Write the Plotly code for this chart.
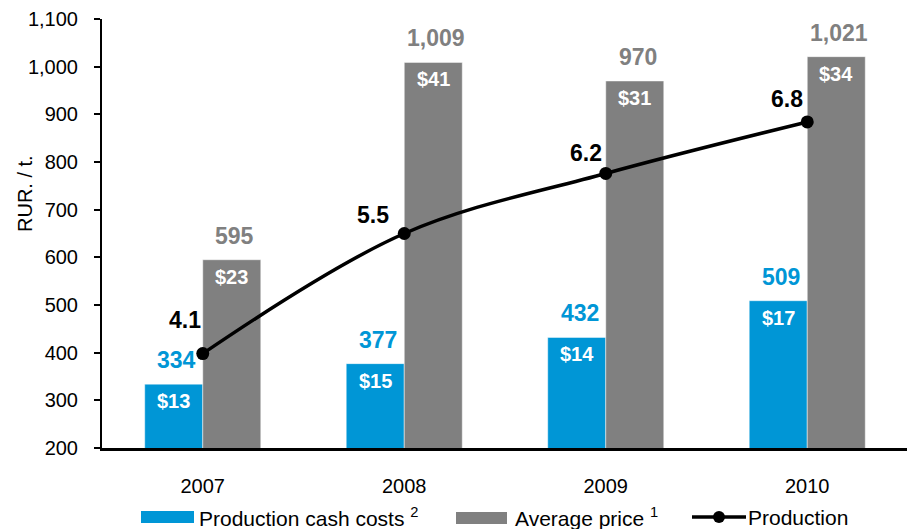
import plotly.graph_objects as go

# ---- data ----
years = ["2007", "2008", "2009", "2010"]
cash_costs = [334, 377, 432, 509]
cash_costs_usd = ["$13", "$15", "$14", "$17"]
avg_price = [595, 1009, 970, 1021]
avg_price_usd = ["$23", "$41", "$31", "$34"]
production = [4.1, 5.5, 6.2, 6.8]

BLUE = "#0096D6"
GRAY = "#808080"
FONT = "Liberation Sans, Arial, sans-serif"

# page body has an 8px margin, so the figure is drawn 8px in from the window corner
OFF = 8
WIN_W, WIN_H = 915, 529
W, H = WIN_W - OFF, WIN_H - OFF
PLOT_L, PLOT_R, PLOT_T, PLOT_B = 102, 908, 19, 448  # plot area in window pixels
L, T = PLOT_L - OFF, PLOT_T - OFF
R = W - (PLOT_R - OFF)
B = H - (PLOT_B - OFF)
PW, PH = PLOT_R - PLOT_L, PLOT_B - PLOT_T

def pxx(x):
    return (x - PLOT_L) / PW

def pxy(y):
    return (PLOT_B - y) / PH

idx = list(range(len(years)))
bw = 0.288

fig = go.Figure()
fig.add_trace(go.Bar(x=idx, y=cash_costs, width=bw, offset=-bw, name="Production cash costs",
                     marker=dict(color=BLUE, line=dict(color="rgba(255,255,255,0.6)", width=0.8)),
                     showlegend=False, hoverinfo="skip"))
fig.add_trace(go.Bar(x=idx, y=avg_price, width=bw, offset=0, name="Average price",
                     marker=dict(color=GRAY, line=dict(color="rgba(255,255,255,0.6)", width=0.8)),
                     showlegend=False, hoverinfo="skip"))
fig.add_trace(go.Scatter(x=idx, y=production, yaxis="y2", mode="lines+markers", name="Production",
                         line=dict(color="black", width=3.5, shape="spline", smoothing=1.0),
                         marker=dict(color="black", size=13), showlegend=False, hoverinfo="skip"))

ann = []
for i in idx:
    ann.append(dict(x=i - bw / 2, y=cash_costs[i], xref="x", yref="y", text=f"<b>{cash_costs[i]:,}</b>",
                    showarrow=False, yshift=24, xshift=3, font=dict(size=23, color=BLUE, family=FONT)))
    ann.append(dict(x=i - bw / 2, y=cash_costs[i], xref="x", yref="y", text=f"<b>{cash_costs_usd[i]}</b>",
                    showarrow=False, yshift=-17, font=dict(size=20, color="white", family=FONT)))
    ann.append(dict(x=i + bw / 2, y=avg_price[i], xref="x", yref="y", text=f"<b>{avg_price[i]:,}</b>",
                    showarrow=False, yshift=24, xshift=3, font=dict(size=23, color=GRAY, family=FONT)))
    ann.append(dict(x=i + bw / 2, y=avg_price[i], xref="x", yref="y", text=f"<b>{avg_price_usd[i]}</b>",
                    showarrow=False, yshift=-17, font=dict(size=20, color="white", family=FONT)))

prod_shift = [(-18, 34), (-31, 19), (-20, 20), (-20, 23)]
for i in idx:
    dx, dy = prod_shift[i]
    ann.append(dict(x=i, y=production[i], xref="x", yref="y2", text=f"<b>{production[i]:.1f}</b>",
                    showarrow=False, xshift=dx, yshift=dy, font=dict(size=23, color="black", family=FONT)))

# y-axis title
ann.append(dict(x=pxx(25), y=pxy(194), xref="paper", yref="paper", xanchor="center", yanchor="middle",
                text="RUR. / t.", textangle=-90, showarrow=False,
                font=dict(size=20, color="black", family=FONT)))

# legend (manual)
ly = 517
LEG_FONT = dict(size=21, color="black", family=FONT)
ann.append(dict(x=pxx(197), y=pxy(ly), xref="paper", yref="paper", xanchor="left", yanchor="middle",
                text="Production cash costs <sup>2</sup>", showarrow=False, font=LEG_FONT))
ann.append(dict(x=pxx(513), y=pxy(ly), xref="paper", yref="paper", xanchor="left", yanchor="middle",
                text="Average price <sup>1</sup>", showarrow=False, font=LEG_FONT))
ann.append(dict(x=pxx(746), y=pxy(ly), xref="paper", yref="paper", xanchor="left", yanchor="middle",
                text="Production", showarrow=False, font=LEG_FONT))

shapes = [
    dict(type="rect", xref="paper", yref="paper", x0=pxx(141), x1=pxx(194), y0=pxy(511), y1=pxy(523),
         fillcolor=BLUE, line=dict(width=0)),
    dict(type="rect", xref="paper", yref="paper", x0=pxx(456), x1=pxx(507), y0=pxy(512), y1=pxy(524),
         fillcolor=GRAY, line=dict(width=0)),
    dict(type="line", xref="paper", yref="paper", x0=pxx(692), x1=pxx(746), y0=pxy(ly), y1=pxy(ly),
         line=dict(color="black", width=3.5)),
    dict(type="circle", xref="paper", yref="paper", x0=pxx(713), x1=pxx(725), y0=pxy(ly - 6), y1=pxy(ly + 6),
         fillcolor="black", line=dict(width=0)),
]

fig.update_layout(
    width=W, height=H,
    margin=dict(l=L, r=R, t=T, b=B, pad=0, autoexpand=False),
    paper_bgcolor="white", plot_bgcolor="white",
    font=dict(family=FONT, size=20, color="black"),
    showlegend=False,
    barmode="overlay",
    xaxis=dict(range=[-0.5, 3.5], tickmode="array", tickvals=idx, ticktext=years,
               showline=True, linecolor="black", linewidth=2.5, ticks="", showgrid=False,
               zeroline=False, ticklabelstandoff=18, tickfont=dict(size=20, color="black")),
    yaxis=dict(range=[200, 1100], dtick=100, tickformat=",d", showline=True, linecolor="black",
               linewidth=2, ticks="outside", ticklen=6, tickwidth=1.5, tickcolor="black",
               showgrid=False, zeroline=False, ticklabelstandoff=12,
               tickfont=dict(size=20, color="black")),
    yaxis2=dict(range=[3, 8], dtick=0.5, overlaying="y", side="right", showline=True,
                linecolor="black", linewidth=1.5, ticks="outside", ticklen=6, tickwidth=1,
                tickcolor="black", showticklabels=False, showgrid=False, zeroline=False),
    annotations=ann,
    shapes=shapes,
)

fig.write_html("out.html")
